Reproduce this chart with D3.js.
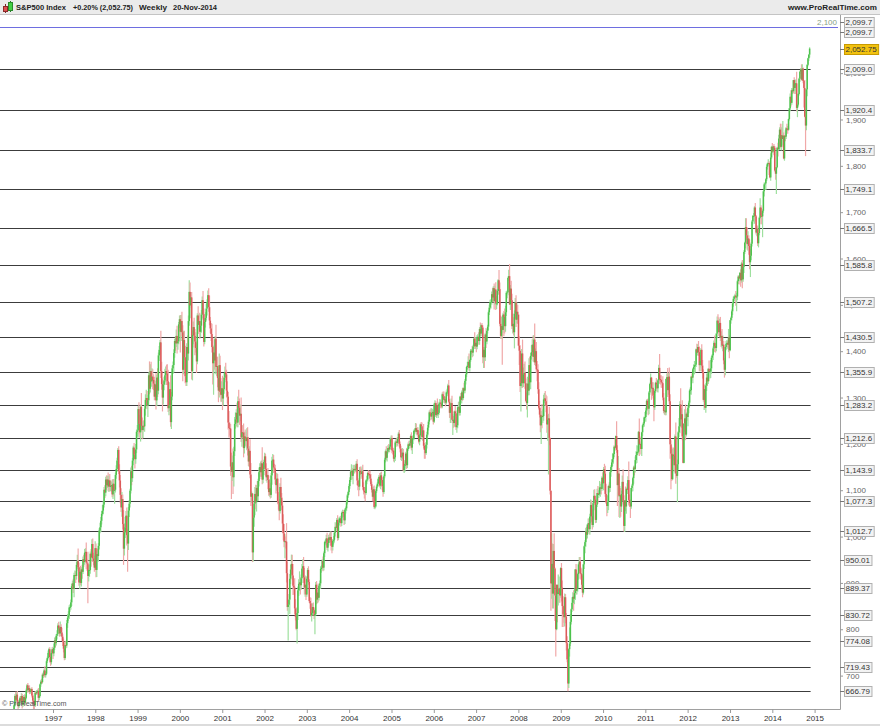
<!DOCTYPE html>
<html><head><meta charset="utf-8">
<script src="https://cdn.jsdelivr.net/npm/d3@7"></script>
<style>
html,body{margin:0;padding:0;background:#fff;}
svg{display:block;font-family:"Liberation Sans",Arial,sans-serif;}
</style></head>
<body><svg id="chart" width="880" height="726"></svg>
<script>
// ---------------- DATA ----------------
const title = "S&P500 Index";
const changeText = "+0.20% (2,052.75)";
const periodText = "Weekly";
const dateText = "20-Nov-2014";
const siteText = "www.ProRealTime.com";
const lastPrice = 2052.75;
const lastPriceLabel = "2,052.75";
const topLevel = 2100, topLevelLabel = "2,100";
const highMark = 2099.7, highMarkLabel = "2,099.7";
const openFirst = 616;  // close of the week before the first bar

const years = [1996,1997,1998,1999,2000,2001,2002,2003,2004,2005,2006,2007,2008,2009,2010,2011,2012,2013,2014];

// weekly closes, one row per year (weeks ending on Fridays)
const weekClose = [
[603,599,603,622,636,656,648,659,644,634,641,651,646,656,637,645,654,642,652,668,679,669,673,665,667,671,657,646,639,636,663,662,665,667,652,656,681,687,686,702,701,711,701,704,731,738,749,757,740,729,749,757],
[748,760,776,770,786,790,808,802,791,805,793,784,774,758,738,766,765,813,825,830,847,848,858,893,899,887,917,917,915,939,947,934,901,924,900,929,924,951,945,965,967,944,942,915,928,928,963,955,984,953,947,933],
[975,928,962,958,980,1013,1020,1034,1049,1056,1069,1101,1095,1123,1111,1123,1108,1121,1108,1109,1111,1091,1114,1099,1101,1133,1146,1164,1187,1141,1121,1090,1063,1081,1027,974,1009,1020,1045,1003,985,1056,1071,1099,1141,1126,1164,1192,1177,1167,1188,1226],
[1229,1275,1243,1225,1280,1239,1230,1239,1238,1276,1295,1299,1283,1294,1348,1319,1357,1335,1345,1338,1330,1302,1328,1294,1343,1315,1391,1403,1419,1357,1329,1300,1328,1337,1348,1357,1352,1335,1277,1283,1318,1247,1302,1363,1370,1396,1422,1417,1433,1417,1421,1458,1469],
[1442,1465,1441,1360,1424,1387,1346,1333,1409,1395,1465,1528,1499,1516,1357,1435,1452,1433,1421,1407,1378,1477,1457,1465,1442,1455,1479,1510,1480,1420,1463,1472,1492,1506,1521,1495,1466,1449,1437,1409,1374,1397,1380,1427,1366,1368,1342,1315,1370,1312,1306,1320],
[1298,1318,1343,1355,1350,1315,1302,1246,1234,1233,1151,1140,1160,1128,1184,1243,1253,1267,1246,1292,1278,1261,1265,1214,1225,1224,1191,1216,1211,1206,1214,1190,1162,1185,1134,1086,1093,966,1041,1071,1092,1074,1105,1087,1120,1139,1150,1139,1158,1123,1145,1161],
[1173,1146,1128,1133,1122,1096,1104,1090,1132,1164,1166,1149,1147,1123,1111,1125,1076,1073,1055,1107,1084,1067,1028,1007,989,990,989,921,848,853,864,909,929,941,916,894,890,845,827,801,835,884,898,901,895,910,931,936,912,890,896,875],
[909,928,902,861,856,830,835,848,841,829,833,896,864,879,868,894,899,930,933,947,933,964,988,989,996,976,986,998,993,999,980,978,991,993,1008,1021,1019,1036,997,1030,1039,1039,1029,1051,1053,1050,1035,1058,1061,1074,1089,1096],
[1109,1122,1140,1142,1131,1143,1146,1144,1145,1157,1121,1110,1108,1142,1139,1135,1141,1107,1099,1096,1094,1121,1123,1137,1135,1134,1125,1113,1101,1086,1102,1064,1065,1098,1108,1114,1124,1129,1110,1132,1122,1108,1096,1130,1166,1184,1170,1183,1191,1188,1194,1210,1212],
[1186,1185,1168,1171,1203,1205,1202,1211,1222,1200,1190,1171,1173,1181,1143,1152,1157,1179,1154,1189,1199,1196,1201,1217,1192,1212,1212,1228,1229,1234,1226,1230,1220,1205,1218,1242,1238,1215,1229,1196,1187,1180,1198,1220,1235,1248,1268,1265,1259,1267,1269,1248],
[1285,1288,1262,1284,1264,1267,1287,1289,1287,1281,1307,1303,1295,1296,1289,1311,1311,1326,1291,1267,1280,1288,1252,1252,1245,1270,1266,1236,1240,1279,1279,1267,1302,1295,1311,1299,1320,1315,1336,1350,1366,1369,1377,1364,1381,1401,1401,1397,1410,1427,1411,1418],
[1410,1431,1431,1422,1448,1438,1456,1451,1387,1403,1387,1436,1421,1444,1453,1484,1494,1506,1506,1523,1516,1536,1508,1533,1503,1503,1530,1553,1534,1459,1433,1454,1446,1479,1474,1454,1484,1526,1527,1558,1562,1501,1535,1510,1454,1459,1441,1481,1505,1468,1485,1479],
[1412,1401,1325,1331,1395,1331,1350,1353,1331,1293,1288,1330,1315,1370,1333,1390,1398,1414,1388,1425,1376,1400,1361,1360,1318,1278,1263,1240,1261,1258,1260,1296,1298,1292,1283,1242,1252,1255,1213,1099,899,941,877,969,931,873,800,896,876,880,888,873],
[932,890,850,832,826,869,827,770,735,683,757,769,816,843,857,870,866,878,929,883,887,919,940,946,921,919,896,879,940,979,988,1011,1004,1026,1029,1016,1043,1068,1044,1025,1072,1088,1080,1036,1069,1094,1091,1092,1106,1106,1103,1127],
[1115,1145,1136,1092,1074,1066,1075,1109,1105,1139,1150,1160,1167,1178,1194,1192,1217,1187,1111,1136,1088,1089,1065,1092,1118,1077,1023,1078,1065,1103,1102,1122,1079,1072,1065,1105,1110,1126,1149,1146,1165,1176,1183,1183,1226,1199,1200,1189,1225,1240,1244,1257,1258],
[1272,1293,1283,1276,1311,1329,1343,1320,1321,1304,1279,1314,1332,1328,1320,1337,1364,1340,1338,1333,1331,1300,1271,1272,1268,1340,1344,1316,1345,1292,1199,1179,1124,1177,1174,1154,1216,1136,1131,1156,1225,1238,1285,1253,1264,1216,1159,1244,1255,1220,1265,1258],
[1278,1289,1315,1316,1345,1343,1361,1366,1370,1371,1404,1397,1409,1398,1370,1379,1403,1369,1353,1295,1318,1278,1326,1343,1335,1362,1355,1357,1363,1386,1391,1406,1418,1411,1407,1438,1466,1460,1441,1461,1429,1433,1412,1414,1380,1360,1409,1416,1418,1414,1430,1402],
[1467,1472,1486,1503,1513,1518,1520,1516,1518,1551,1561,1557,1569,1553,1589,1555,1582,1614,1634,1668,1650,1631,1643,1627,1592,1606,1632,1680,1692,1692,1710,1691,1656,1664,1633,1655,1688,1710,1692,1691,1703,1745,1760,1762,1771,1798,1805,1806,1805,1775,1818,1841],
[1831,1842,1839,1790,1783,1797,1839,1836,1859,1878,1841,1866,1858,1865,1816,1865,1863,1881,1879,1878,1901,1924,1949,1936,1963,1961,1985,1968,1978,1978,1925,1932,1955,1988,2003,2008,1986,2010,1983,1968,1906,1887,1965,2018,2032,2040,2053]
];

// weekly high: points above the top of the candle body
const weekHighExt = [
[4,6,5,3,3,4,9,5,8,4,6,4,5,6,5,5,4,6,6,4,3,5,5,6,4,3,4,5,6,8,3,4,4,3,6,3,2,4,6,3,5,4,9,5,4,3,5,3,4,7,5,4],
[5,9,6,7,4,8,5,8,6,12,6,10,5,6,12,8,9,7,8,9,5,6,6,5,6,10,5,10,8,6,14,27,10,8,13,5,10,6,10,8,8,20,8,25,10,12,5,10,10,12,12,12],
[15,10,8,12,6,5,10,8,6,12,8,6,10,6,9,8,15,10,14,12,8,12,10,10,12,5,8,6,4,8,15,12,14,15,10,30,20,22,10,18,12,8,8,4,8,12,6,4,10,10,12,5],
[12,6,15,20,5,30,18,10,12,8,12,18,15,12,6,30,15,20,18,16,12,15,8,25,6,20,6,8,5,25,20,12,6,8,14,10,14,20,25,10,15,30,10,6,8,8,5,10,14,22,12,5,8],
[9,13,20,15,20,20,25,15,8,25,12,25,20,12,12,10,12,20,15,20,10,5,20,15,18,10,10,8,20,12,8,12,10,6,10,15,25,8,12,22,20,15,28,6,30,20,20,20,25,20,30,15],
[27,15,10,12,20,10,20,10,25,12,10,30,15,30,10,15,15,8,22,10,25,20,20,35,15,15,20,10,15,15,20,22,25,10,25,25,4,0,5,5,15,20,6,15,5,10,8,12,6,35,5,5],
[8,6,12,10,15,10,20,12,5,8,12,10,8,8,15,12,10,20,8,8,20,10,10,20,20,15,10,40,25,10,12,10,10,20,20,25,10,20,20,20,10,8,10,24,12,8,10,15,20,20,20,18],
[5,4,8,6,8,12,10,8,10,6,10,6,8,6,20,3,6,6,5,4,10,4,3,5,8,12,4,6,9,12,12,5,4,8,3,10,8,4,10,4,3,5,6,3,5,4,8,3,4,5,3,3],
[5,6,4,14,6,12,8,9,8,6,10,5,12,8,9,8,10,14,10,8,10,2,8,3,6,6,8,10,6,5,6,8,12,4,3,3,3,4,8,6,8,6,6,4,4,4,11,5,6,9,4,4,6],
[6,6,6,5,4,6,8,4,4,8,5,6,8,10,8,10,8,4,12,3,4,8,6,3,8,6,4,3,4,11,10,6,6,8,4,2,5,8,6,14,6,14,6,6,6,4,4,6,12,10,6,4],
[4,6,4,4,14,6,4,8,6,4,4,6,10,6,6,4,8,4,12,6,8,10,16,12,8,2,12,6,18,2,12,12,2,8,4,10,2,12,4,2,2,8,12,18,2,4,4,10,4,2,14,12],
[12,4,6,10,4,14,2,5,5,6,6,4,14,4,4,4,6,5,6,6,14,4,10,8,16,16,4,3,22,14,18,20,22,4,8,18,14,4,4,3,14,26,8,17,14,22,14,7,10,16,20,15],
[0,20,12,37,10,30,15,20,25,10,18,15,12,15,18,6,15,12,20,10,35,6,20,18,12,15,15,15,10,25,15,10,12,16,14,20,10,10,25,0,0,66,44,15,38,2,1,0,0,38,26,2],
[2,11,15,21,20,8,7,8,15,7,2,35,17,2,12,10,14,10,1,12,18,3,2,10,10,12,12,20,1,2,4,8,10,1,10,10,6,12,10,15,4,13,14,8,1,9,15,8,14,8,12,3],
[12,5,12,17,22,14,14,3,8,2,4,7,13,3,3,18,1,32,10,38,12,20,16,7,14,27,12,1,30,3,12,8,40,12,8,0,4,3,4,4,8,8,14,13,2,29,5,16,1,2,3,2,11],
[6,3,4,15,3,3,9,1,12,12,12,4,2,10,10,3,7,30,8,10,6,15,10,8,10,1,8,20,8,20,15,9,15,13,15,16,4,30,20,10,2,18,7,35,13,30,8,0,20,30,3,10],
[6,4,4,7,2,7,3,6,9,4,2,12,6,13,12,12,4,12,12,8,10,8,5,9,8,1,18,4,18,4,3,4,5,16,6,1,9,14,13,9,13,10,15,20,8,5,1,6,6,4,18,5],
[0,3,4,3,5,2,4,10,8,3,3,3,2,8,4,8,3,4,2,19,19,17,16,7,14,14,3,3,2,6,3,10,3,5,7,0,2,20,5,6,3,2,4,2,2,5,2,8,4,2,9,2],
[8,2,5,4,7,0,2,11,8,5,13,17,25,32,7,1,12,3,10,7,1,1,7,14,5,4,0,6,9,7,25,2,2,2,2,3,11,9,2,2,17,11,1,1,1,1,3]
];

// weekly low: points below the bottom of the candle body
const weekLowExt = [
[5,8,6,3,4,3,6,4,5,8,4,5,4,3,8,4,5,6,5,3,4,6,4,5,4,5,4,6,33,16,4,3,4,4,8,5,3,5,4,3,6,4,5,5,3,4,3,4,12,8,5,3],
[12,6,5,9,5,8,4,5,7,6,8,9,10,8,5,4,6,5,10,7,8,9,6,8,4,9,18,10,15,8,9,8,7,14,5,8,15,5,10,6,8,14,16,59,12,15,8,20,8,8,9,9],
[5,16,15,10,12,8,6,10,8,4,8,6,12,8,10,6,10,12,10,10,12,6,10,12,28,6,8,6,10,6,15,18,10,20,12,35,15,12,15,22,61,14,14,8,6,15,8,10,8,20,10,8],
[10,15,22,12,20,10,20,18,10,12,15,10,8,25,10,12,8,10,12,20,14,8,8,20,12,14,8,12,8,15,12,30,15,12,10,15,25,8,8,15,12,10,15,8,12,16,10,16,8,22,14,6,8],
[45,20,8,25,10,6,15,8,8,45,15,10,6,28,18,20,20,25,30,10,25,6,20,10,15,12,15,8,12,10,5,12,6,15,5,10,10,10,15,12,46,68,20,30,10,20,20,25,15,8,15,15],
[25,15,10,10,12,15,15,15,20,15,20,59,20,36,20,10,10,15,10,10,12,20,12,10,20,12,20,12,15,12,20,15,10,12,8,20,13,21,20,20,25,15,20,10,10,12,15,10,10,10,8,12],
[12,15,8,12,20,8,10,8,6,20,10,12,8,10,18,12,6,15,20,5,12,10,20,15,12,36,15,20,8,72,2,31,12,10,10,20,15,12,8,3,32,15,12,15,20,10,10,15,12,15,20,12],
[5,8,6,4,12,3,13,5,6,7,40,4,10,8,10,6,6,12,8,6,8,6,8,5,8,5,8,5,6,5,10,14,8,8,6,8,8,6,6,4,6,6,8,6,10,8,10,8,8,6,5,5],
[6,6,4,4,8,18,4,8,4,6,10,10,21,8,6,10,6,6,8,14,18,4,8,4,4,4,6,4,6,10,4,4,5,2,4,4,6,4,4,8,6,8,10,4,4,6,6,8,4,6,6,6,6],
[6,8,6,8,8,6,8,6,6,6,8,6,8,6,2,6,12,10,8,6,4,6,6,4,6,14,12,4,6,4,6,8,6,4,8,6,4,6,8,6,19,12,4,8,4,6,6,6,8,6,4,6],
[3,8,4,6,4,8,4,6,10,4,4,4,6,8,8,4,8,6,2,11,22,10,7,33,10,8,6,6,12,6,8,6,6,4,8,6,4,6,6,8,6,6,6,6,8,4,8,10,8,4,6,6],
[12,6,8,8,8,6,6,8,13,23,23,8,14,6,6,8,6,4,14,6,10,10,18,8,14,12,4,8,10,5,6,6,75,6,42,16,12,8,12,6,6,1,12,10,6,16,7,35,10,16,8,20],
[1,31,13,55,10,10,8,20,12,2,14,31,10,10,6,15,8,8,10,12,6,8,8,25,10,4,6,15,40,24,13,10,8,10,15,18,35,118,16,8,59,33,32,32,32,55,59,2,61,25,23,16],
[5,30,45,27,12,20,14,16,6,17,10,16,5,6,6,10,26,12,15,8,8,6,12,15,12,12,10,10,4,10,15,10,10,8,15,10,12,14,12,10,5,15,12,7,6,5,20,8,4,20,12,4],
[2,15,12,6,3,22,15,18,10,9,10,8,8,10,7,7,2,6,45,25,46,48,22,12,15,8,12,13,10,16,10,10,12,8,25,5,8,12,12,14,8,8,17,8,4,25,10,12,15,8,4,7,7],
[10,8,7,14,12,5,2,25,12,6,30,6,4,10,8,9,7,10,10,12,10,6,5,8,6,6,8,15,10,6,31,77,4,2,10,14,18,22,4,57,12,10,15,17,18,8,1,1,18,12,4,8],
[20,12,5,8,10,8,12,8,16,16,5,7,6,8,13,13,14,12,12,4,22,1,11,12,10,6,20,14,15,12,10,10,8,12,10,7,10,8,8,11,7,20,6,12,8,17,12,7,11,6,16,17],
[2,8,6,8,7,4,10,18,30,8,6,13,6,14,5,19,5,13,4,12,10,12,14,19,15,32,10,6,6,3,17,11,4,8,6,9,5,3,18,17,45,4,11,8,14,4,6,5,25,2,7,3],
[3,4,16,2,13,44,2,16,3,25,2,8,18,14,2,5,10,5,2,9,2,3,6,8,4,6,4,13,6,23,8,20,4,3,7,5,2,2,5,42,1,66,10,15,3,6,6]
];

// horizontal price levels drawn across the chart
const levelValues = [2009.0,1920.4,1833.7,1749.1,1666.5,1585.8,1507.2,1430.5,1355.9,1283.2,1212.6,1143.9,1077.3,1012.7,950.01,889.37,830.72,774.08,719.43,666.79];
const levelLabels = ["2,009.0","1,920.4","1,833.7","1,749.1","1,666.5","1,585.8","1,507.2","1,430.5","1,355.9","1,283.2","1,212.6","1,143.9","1,077.3","1,012.7","950.01","889.37","830.72","774.08","719.43","666.79"];
const priceTicks = [700,800,900,1000,1100,1200,1300,1400,1500,1600,1700,1800,1900,2000];
const yearTicks = [1997,1998,1999,2000,2001,2002,2003,2004,2005,2006,2007,2008,2009,2010,2011,2012,2013,2014,2015];

// ---------------- BUILD ----------------
const candles = [];
let prevClose = openFirst;
years.forEach((yr, k) => {
  const firstFri = d3.timeFriday.ceil(new Date(yr, 0, 1));
  weekClose[k].forEach((c, j) => {
    const o = prevClose;
    const top = Math.max(o, c), bot = Math.min(o, c);
    candles.push({
      date: d3.timeDay.offset(firstFri, 7 * j - 2),
      open: o, close: c,
      high: top + (weekHighExt[k][j] || 0),
      low: bot - (weekLowExt[k][j] || 0)
    });
    prevClose = c;
  });
});

const svg = d3.select("#chart");
const W = 880, H = 726;
const plotTop = 15, plotBottom = 709, plotRight = 840;

const x = d3.scaleTime().domain([new Date(1997,0,1), new Date(2015,0,1)]).range([53, 814.6]);
const y = d3.scaleLinear().domain([700, 2100]).range([675.6, 26.8]);

svg.append("rect").attr("width", W).attr("height", H).attr("fill", "#fff");

// header bar
svg.append("rect").attr("x",0).attr("y",0).attr("width",W).attr("height",14).attr("fill","#ebebeb");
svg.append("line").attr("x1",0).attr("x2",W).attr("y1",14.5).attr("y2",14.5).attr("stroke","#c4c4c4");
const icon = svg.append("g");
icon.append("line").attr("x1",5.5).attr("x2",5.5).attr("y1",4).attr("y2",13).attr("stroke","#7a2a2a");
icon.append("rect").attr("x",3.5).attr("y",6.5).attr("width",4).attr("height",5).attr("fill","#e05050").attr("stroke","#8a2a2a");
icon.append("line").attr("x1",10.5).attr("x2",10.5).attr("y1",1).attr("y2",12).attr("stroke","#2a7a2a");
icon.append("rect").attr("x",8.5).attr("y",2.5).attr("width",4).attr("height",8).attr("fill","#44d044").attr("stroke","#2a8a2a");
const hdr = svg.append("g").attr("font-size", 8).attr("font-weight", "bold").attr("fill", "#222");
function hdrText(xp, str, len, anchor) {
  hdr.append("text").attr("x", xp).attr("y", 10).attr("text-anchor", anchor || "start")
    .attr("textLength", len).attr("lengthAdjust", "spacingAndGlyphs").text(str);
}
hdrText(16, title, 50);
hdrText(73, changeText, 60);
hdrText(139, periodText, 28);
hdrText(173, dateText, 44);
hdrText(877, siteText, 89, "end");

// clip
svg.append("defs").append("clipPath").attr("id","plotclip")
  .append("rect").attr("x",0).attr("y",plotTop+1).attr("width",plotRight).attr("height",plotBottom-plotTop-1);

const plot = svg.append("g").attr("clip-path","url(#plotclip)");

// level lines
const xEnd = x(candles[candles.length-1].date) + 1;
plot.selectAll("line.level").data(levelValues).join("line")
  .attr("class","level")
  .attr("x1",0).attr("x2",xEnd)
  .attr("y1", d => Math.round(y(d)) + 0.5).attr("y2", d => Math.round(y(d)) + 0.5)
  .attr("stroke","#3c3c3c").attr("stroke-width",1);

// blue top level
plot.append("line").attr("x1",0).attr("x2",838)
  .attr("y1", Math.round(y(topLevel))+0.5).attr("y2", Math.round(y(topLevel))+0.5)
  .attr("stroke","#6e6ee0").attr("stroke-width",1);
svg.append("text").attr("x",837).attr("y",y(topLevel)-2).attr("text-anchor","end")
  .attr("font-size",8).attr("fill","#86a086").text(topLevelLabel);

// watermark
svg.append("text").attr("x",2).attr("y",706).attr("font-size",7.2).attr("fill","#555").text("\u00A9 ProRealTime.com");

// candles
const up = d => d.close >= d.open;
const cg = plot.append("g");
cg.selectAll("line.wick").data(candles).join("line")
  .attr("class","wick")
  .attr("x1", d => x(d.date)).attr("x2", d => x(d.date))
  .attr("y1", d => y(d.high)).attr("y2", d => y(d.low))
  .attr("stroke", d => up(d) ? "#9ee09e" : "#f0a8a8").attr("stroke-width", 1.2);
cg.selectAll("rect.body").data(candles).join("rect")
  .attr("class","body")
  .attr("x", d => x(d.date) - 0.75).attr("width", 1.5)
  .attr("y", d => y(Math.max(d.open, d.close)))
  .attr("height", d => Math.max(1, Math.abs(y(d.open) - y(d.close))))
  .attr("fill", d => up(d) ? "#4cc24c" : "#dc5a5a");

// axes frame
svg.append("line").attr("x1",plotRight+0.5).attr("x2",plotRight+0.5).attr("y1",plotTop).attr("y2",plotBottom+0.5).attr("stroke","#a0a0a0");
svg.append("line").attr("x1",0).attr("x2",plotRight+0.5).attr("y1",plotBottom+0.5).attr("y2",plotBottom+0.5).attr("stroke","#a0a0a0");
svg.append("rect").attr("x",0).attr("y",724).attr("width",W).attr("height",2).attr("fill","#dcdcdc");

// right price axis (round numbers)
const yAxis = d3.axisRight(y).tickValues(priceTicks).tickFormat(d3.format(",")).tickSize(3).tickPadding(3);
const ya = svg.append("g").attr("transform",`translate(${plotRight},0)`).call(yAxis);
ya.select(".domain").remove();
ya.selectAll("line").attr("stroke","#999");
ya.selectAll("text").attr("font-size",8).attr("fill","#666").attr("font-family","Liberation Sans, Arial, sans-serif");

// boxed labels
function boxLabel(cy, label, fill, stroke, color) {
  const g = svg.append("g");
  g.append("line").attr("x1",plotRight).attr("x2",plotRight+4).attr("y1",Math.round(cy)+0.5).attr("y2",Math.round(cy)+0.5).attr("stroke","#777");
  const t = g.append("text").attr("x",plotRight+5.5).attr("y",cy+3).attr("font-size",8).attr("fill",color).text(label);
  const w = t.node().getComputedTextLength();
  g.insert("rect","text").attr("x",plotRight+4.5).attr("y",Math.round(cy)-4.5).attr("width",w+3).attr("height",10)
    .attr("fill",fill).attr("stroke",stroke);
}
levelValues.forEach((v, i) => boxLabel(y(v), levelLabels[i], "#f3f3f3", "#b0b0b0", "#333"));
boxLabel(y(highMark) - 5, highMarkLabel, "#f3f3f3", "#b0b0b0", "#333");
boxLabel(y(highMark) + 5, highMarkLabel, "#f3f3f3", "#b0b0b0", "#333");
boxLabel(y(lastPrice), lastPriceLabel, "#f2c20f", "#c89a00", "#333");

// bottom time axis
const xa = svg.append("g").attr("transform",`translate(0,${plotBottom})`)
  .call(d3.axisBottom(x).tickValues(yearTicks.map(yr => new Date(yr,0,1))).tickFormat(d3.timeFormat("%Y")).tickSize(4).tickPadding(2));
xa.select(".domain").remove();
xa.selectAll("line").attr("stroke","#999");
xa.selectAll("text").attr("font-size",8).attr("fill","#333").attr("font-family","Liberation Sans, Arial, sans-serif");
</script>
</body></html>
